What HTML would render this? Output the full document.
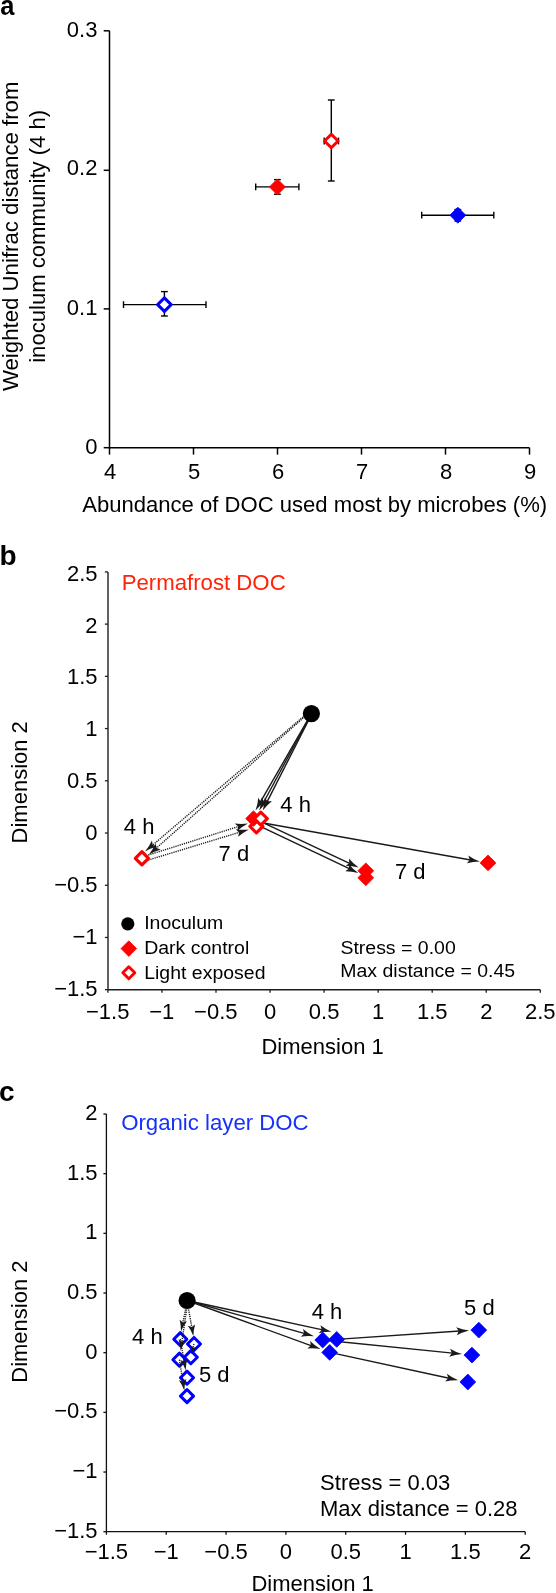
<!DOCTYPE html>
<html><head><meta charset="utf-8"><title>Figure</title>
<style>
html,body{margin:0;padding:0;background:#fff;}
body{width:556px;height:1593px;overflow:hidden;}
svg{display:block;will-change:transform;}
svg text{font-family:"Liberation Sans",sans-serif;}
</style></head>
<body>
<svg width="556" height="1593" viewBox="0 0 556 1593">
<rect x="0" y="0" width="556" height="1593" fill="#fff"/>
<text x="0.00" y="0.00" font-size="28" text-anchor="start" fill="#000" font-weight="700" transform="translate(0.2,15.3) scale(0.91,1)">a</text>
<line x1="109.50" y1="30.80" x2="109.50" y2="447.70" stroke="#000" stroke-width="1.5" />
<line x1="109.50" y1="447.70" x2="529.50" y2="447.70" stroke="#000" stroke-width="1.5" />
<line x1="103.70" y1="447.70" x2="109.50" y2="447.70" stroke="#000" stroke-width="1.5" />
<text x="97.40" y="453.60" font-size="22" text-anchor="end" fill="#000" >0</text>
<line x1="103.70" y1="308.90" x2="109.50" y2="308.90" stroke="#000" stroke-width="1.5" />
<text x="97.40" y="314.70" font-size="22" text-anchor="end" fill="#000" >0.1</text>
<line x1="103.70" y1="170.30" x2="109.50" y2="170.30" stroke="#000" stroke-width="1.5" />
<text x="97.40" y="175.40" font-size="22" text-anchor="end" fill="#000" >0.2</text>
<line x1="103.70" y1="30.80" x2="109.50" y2="30.80" stroke="#000" stroke-width="1.5" />
<text x="97.40" y="36.70" font-size="22" text-anchor="end" fill="#000" >0.3</text>
<line x1="109.50" y1="447.70" x2="109.50" y2="454.60" stroke="#000" stroke-width="1.5" />
<text x="110.20" y="478.60" font-size="22" text-anchor="middle" fill="#000" >4</text>
<line x1="193.50" y1="447.70" x2="193.50" y2="454.60" stroke="#000" stroke-width="1.5" />
<text x="194.20" y="478.60" font-size="22" text-anchor="middle" fill="#000" >5</text>
<line x1="277.50" y1="447.70" x2="277.50" y2="454.60" stroke="#000" stroke-width="1.5" />
<text x="278.20" y="478.60" font-size="22" text-anchor="middle" fill="#000" >6</text>
<line x1="361.50" y1="447.70" x2="361.50" y2="454.60" stroke="#000" stroke-width="1.5" />
<text x="362.20" y="478.60" font-size="22" text-anchor="middle" fill="#000" >7</text>
<line x1="445.50" y1="447.70" x2="445.50" y2="454.60" stroke="#000" stroke-width="1.5" />
<text x="446.20" y="478.60" font-size="22" text-anchor="middle" fill="#000" >8</text>
<line x1="529.50" y1="447.70" x2="529.50" y2="454.60" stroke="#000" stroke-width="1.5" />
<text x="530.20" y="478.60" font-size="22" text-anchor="middle" fill="#000" >9</text>
<text x="314.70" y="511.70" font-size="22" text-anchor="middle" fill="#000" textLength="465" lengthAdjust="spacingAndGlyphs">Abundance of DOC used most by microbes (%)</text>
<g transform="translate(18.4,236.3) rotate(-90)">
<text x="0.00" y="0.00" font-size="22" text-anchor="middle" fill="#000" textLength="309.5" lengthAdjust="spacingAndGlyphs">Weighted Unifrac distance from</text>
<text x="0.00" y="26.30" font-size="22" text-anchor="middle" fill="#000" textLength="253" lengthAdjust="spacingAndGlyphs">inoculum community (4 h)</text>
</g>
<line x1="123.50" y1="304.60" x2="206.00" y2="304.60" stroke="#000" stroke-width="1.4" />
<line x1="123.50" y1="301.20" x2="123.50" y2="308.00" stroke="#000" stroke-width="1.4" />
<line x1="206.00" y1="301.20" x2="206.00" y2="308.00" stroke="#000" stroke-width="1.4" />
<line x1="164.40" y1="291.60" x2="164.40" y2="316.00" stroke="#000" stroke-width="1.4" />
<line x1="161.00" y1="291.60" x2="167.80" y2="291.60" stroke="#000" stroke-width="1.4" />
<line x1="161.00" y1="316.00" x2="167.80" y2="316.00" stroke="#000" stroke-width="1.4" />
<polygon points="164.40,297.85 171.15,304.60 164.40,311.35 157.65,304.60" fill="#fff" stroke="#0000ff" stroke-width="3.0" stroke-linejoin="round"/>
<line x1="255.70" y1="186.90" x2="298.90" y2="186.90" stroke="#000" stroke-width="1.4" />
<line x1="255.70" y1="183.50" x2="255.70" y2="190.30" stroke="#000" stroke-width="1.4" />
<line x1="298.90" y1="183.50" x2="298.90" y2="190.30" stroke="#000" stroke-width="1.4" />
<line x1="277.40" y1="179.60" x2="277.40" y2="194.20" stroke="#000" stroke-width="1.4" />
<line x1="274.00" y1="179.60" x2="280.80" y2="179.60" stroke="#000" stroke-width="1.4" />
<line x1="274.00" y1="194.20" x2="280.80" y2="194.20" stroke="#000" stroke-width="1.4" />
<polygon points="277.40,178.90 285.40,186.90 277.40,194.90 269.40,186.90" fill="#ff0000" stroke="#ff0000" stroke-width="0.8" stroke-linejoin="round"/>
<line x1="324.20" y1="141.00" x2="338.50" y2="141.00" stroke="#000" stroke-width="1.4" />
<line x1="324.20" y1="137.60" x2="324.20" y2="144.40" stroke="#000" stroke-width="1.4" />
<line x1="338.50" y1="137.60" x2="338.50" y2="144.40" stroke="#000" stroke-width="1.4" />
<line x1="331.30" y1="100.00" x2="331.30" y2="181.00" stroke="#000" stroke-width="1.4" />
<line x1="327.90" y1="100.00" x2="334.70" y2="100.00" stroke="#000" stroke-width="1.4" />
<line x1="327.90" y1="181.00" x2="334.70" y2="181.00" stroke="#000" stroke-width="1.4" />
<polygon points="331.30,134.25 338.05,141.00 331.30,147.75 324.55,141.00" fill="#fff" stroke="#ff0000" stroke-width="3.0" stroke-linejoin="round"/>
<line x1="421.70" y1="215.20" x2="493.80" y2="215.20" stroke="#000" stroke-width="1.4" />
<line x1="421.70" y1="211.80" x2="421.70" y2="218.60" stroke="#000" stroke-width="1.4" />
<line x1="493.80" y1="211.80" x2="493.80" y2="218.60" stroke="#000" stroke-width="1.4" />
<line x1="457.80" y1="209.50" x2="457.80" y2="221.00" stroke="#000" stroke-width="1.4" />
<line x1="454.40" y1="209.50" x2="461.20" y2="209.50" stroke="#000" stroke-width="1.4" />
<line x1="454.40" y1="221.00" x2="461.20" y2="221.00" stroke="#000" stroke-width="1.4" />
<polygon points="457.80,207.20 465.80,215.20 457.80,223.20 449.80,215.20" fill="#0000ff" stroke="#0000ff" stroke-width="0.8" stroke-linejoin="round"/>
<text x="-0.50" y="564.80" font-size="28" text-anchor="start" fill="#000" font-weight="700" >b</text>
<line x1="108.00" y1="571.90" x2="108.00" y2="989.70" stroke="#1e1e1e" stroke-width="1.4" />
<line x1="107.90" y1="989.70" x2="540.30" y2="989.70" stroke="#1e1e1e" stroke-width="1.5" />
<line x1="104.90" y1="571.90" x2="107.90" y2="571.90" stroke="#1e1e1e" stroke-width="1.3" />
<text x="97.60" y="580.70" font-size="22" text-anchor="end" fill="#000" >2.5</text>
<line x1="104.90" y1="624.12" x2="107.90" y2="624.12" stroke="#1e1e1e" stroke-width="1.3" />
<text x="97.60" y="632.55" font-size="22" text-anchor="end" fill="#000" >2</text>
<line x1="104.90" y1="676.35" x2="107.90" y2="676.35" stroke="#1e1e1e" stroke-width="1.3" />
<text x="97.60" y="684.40" font-size="22" text-anchor="end" fill="#000" >1.5</text>
<line x1="104.90" y1="728.58" x2="107.90" y2="728.58" stroke="#1e1e1e" stroke-width="1.3" />
<text x="97.60" y="736.25" font-size="22" text-anchor="end" fill="#000" >1</text>
<line x1="104.90" y1="780.80" x2="107.90" y2="780.80" stroke="#1e1e1e" stroke-width="1.3" />
<text x="97.60" y="788.10" font-size="22" text-anchor="end" fill="#000" >0.5</text>
<line x1="104.90" y1="833.03" x2="107.90" y2="833.03" stroke="#1e1e1e" stroke-width="1.3" />
<text x="97.60" y="839.95" font-size="22" text-anchor="end" fill="#000" >0</text>
<line x1="104.90" y1="885.25" x2="107.90" y2="885.25" stroke="#1e1e1e" stroke-width="1.3" />
<text x="97.60" y="891.80" font-size="22" text-anchor="end" fill="#000" >−0.5</text>
<line x1="104.90" y1="937.48" x2="107.90" y2="937.48" stroke="#1e1e1e" stroke-width="1.3" />
<text x="97.60" y="943.65" font-size="22" text-anchor="end" fill="#000" >−1</text>
<line x1="104.90" y1="989.70" x2="107.90" y2="989.70" stroke="#1e1e1e" stroke-width="1.3" />
<text x="97.60" y="995.50" font-size="22" text-anchor="end" fill="#000" >−1.5</text>
<line x1="107.90" y1="989.70" x2="107.90" y2="992.70" stroke="#1e1e1e" stroke-width="1.3" />
<text x="107.70" y="1019.20" font-size="22" text-anchor="middle" fill="#000" >−1.5</text>
<line x1="161.95" y1="989.70" x2="161.95" y2="992.70" stroke="#1e1e1e" stroke-width="1.3" />
<text x="161.75" y="1019.20" font-size="22" text-anchor="middle" fill="#000" >−1</text>
<line x1="216.00" y1="989.70" x2="216.00" y2="992.70" stroke="#1e1e1e" stroke-width="1.3" />
<text x="215.80" y="1019.20" font-size="22" text-anchor="middle" fill="#000" >−0.5</text>
<line x1="270.05" y1="989.70" x2="270.05" y2="992.70" stroke="#1e1e1e" stroke-width="1.3" />
<text x="270.05" y="1019.20" font-size="22" text-anchor="middle" fill="#000" >0</text>
<line x1="324.10" y1="989.70" x2="324.10" y2="992.70" stroke="#1e1e1e" stroke-width="1.3" />
<text x="324.10" y="1019.20" font-size="22" text-anchor="middle" fill="#000" >0.5</text>
<line x1="378.15" y1="989.70" x2="378.15" y2="992.70" stroke="#1e1e1e" stroke-width="1.3" />
<text x="378.15" y="1019.20" font-size="22" text-anchor="middle" fill="#000" >1</text>
<line x1="432.20" y1="989.70" x2="432.20" y2="992.70" stroke="#1e1e1e" stroke-width="1.3" />
<text x="432.20" y="1019.20" font-size="22" text-anchor="middle" fill="#000" >1.5</text>
<line x1="486.25" y1="989.70" x2="486.25" y2="992.70" stroke="#1e1e1e" stroke-width="1.3" />
<text x="486.25" y="1019.20" font-size="22" text-anchor="middle" fill="#000" >2</text>
<line x1="540.30" y1="989.70" x2="540.30" y2="992.70" stroke="#1e1e1e" stroke-width="1.3" />
<text x="540.30" y="1019.20" font-size="22" text-anchor="middle" fill="#000" >2.5</text>
<text x="322.60" y="1053.70" font-size="22" text-anchor="middle" fill="#000" >Dimension 1</text>
<g transform="translate(27.3,782.3) rotate(-90)">
<text x="0.00" y="0.00" font-size="22" text-anchor="middle" fill="#000" >Dimension 2</text>
</g>
<text x="121.70" y="590.30" font-size="22.2" text-anchor="start" fill="#ff2308" >Permafrost DOC</text>
<line x1="311.40" y1="709.80" x2="152.14" y2="845.52" stroke="#1a1a1a" stroke-width="1.4" stroke-dasharray="1.2 1.0"/>
<path d="M145.00,851.60 Q149.40,846.17 151.92,840.45 L152.80,844.95 L157.11,846.54 Q151.06,848.12 145.00,851.60Z" fill="#1a1a1a"/>
<line x1="311.40" y1="710.70" x2="155.82" y2="848.58" stroke="#1a1a1a" stroke-width="1.4" stroke-dasharray="1.2 1.0"/>
<path d="M148.80,854.80 Q153.10,849.28 155.50,843.52 L156.47,848.00 L160.81,849.50 Q154.79,851.20 148.80,854.80Z" fill="#1a1a1a"/>
<line x1="141.90" y1="857.10" x2="238.96" y2="826.33" stroke="#1a1a1a" stroke-width="1.4" stroke-dasharray="1.2 1.0"/>
<path d="M247.90,823.50 Q241.73,826.80 237.19,831.09 L238.13,826.60 L234.78,823.46 Q240.96,824.36 247.90,823.50Z" fill="#1a1a1a"/>
<line x1="141.90" y1="862.00" x2="239.93" y2="832.13" stroke="#1a1a1a" stroke-width="1.4" stroke-dasharray="1.2 1.0"/>
<path d="M248.90,829.40 Q242.70,832.63 238.11,836.87 L239.09,832.39 L235.78,829.22 Q241.95,830.18 248.90,829.40Z" fill="#1a1a1a"/>
<line x1="311.40" y1="713.60" x2="260.18" y2="802.38" stroke="#1a1a1a" stroke-width="1.4" />
<path d="M255.50,810.50 Q257.83,803.91 258.28,797.67 L260.62,801.62 L265.21,801.67 Q260.04,805.18 255.50,810.50Z" fill="#1a1a1a"/>
<line x1="311.40" y1="713.60" x2="263.65" y2="802.25" stroke="#1a1a1a" stroke-width="1.4" />
<path d="M259.20,810.50 Q261.33,803.84 261.61,797.60 L264.06,801.48 L268.65,801.39 Q263.59,805.05 259.20,810.50Z" fill="#1a1a1a"/>
<line x1="311.90" y1="713.60" x2="266.94" y2="802.14" stroke="#1a1a1a" stroke-width="1.4" />
<path d="M262.70,810.50 Q264.67,803.79 264.79,797.54 L267.34,801.36 L271.93,801.17 Q266.95,804.95 262.70,810.50Z" fill="#1a1a1a"/>
<line x1="255.00" y1="821.50" x2="470.67" y2="859.95" stroke="#1a1a1a" stroke-width="1.4" />
<path d="M479.90,861.60 Q472.91,861.65 466.89,863.34 L469.81,859.80 L468.30,855.47 Q473.36,859.13 479.90,861.60Z" fill="#1a1a1a"/>
<line x1="255.00" y1="818.90" x2="350.11" y2="863.52" stroke="#1a1a1a" stroke-width="1.4" />
<path d="M358.60,867.50 Q351.83,865.74 345.58,865.81 L349.32,863.15 L348.98,858.57 Q352.92,863.42 358.60,867.50Z" fill="#1a1a1a"/>
<line x1="255.00" y1="823.90" x2="349.83" y2="868.88" stroke="#1a1a1a" stroke-width="1.4" />
<path d="M358.30,872.90 Q351.54,871.11 345.29,871.16 L349.04,868.51 L348.72,863.93 Q352.64,868.80 358.30,872.90Z" fill="#1a1a1a"/>
<circle cx="311.4" cy="713.6" r="8.6" fill="#000"/>
<polygon points="141.90,851.70 148.50,858.30 141.90,864.90 135.30,858.30" fill="#fff" stroke="#ff0000" stroke-width="3.2" stroke-linejoin="round"/>
<polygon points="256.40,819.90 262.90,826.40 256.40,832.90 249.90,826.40" fill="#fff" stroke="#ff0000" stroke-width="3.1" stroke-linejoin="round"/>
<polygon points="253.50,810.80 261.30,818.60 253.50,826.40 245.70,818.60" fill="#ff0000" stroke="#ff0000" stroke-width="0.8" stroke-linejoin="round"/>
<polygon points="260.80,812.10 267.30,818.60 260.80,825.10 254.30,818.60" fill="#fff" stroke="#ff0000" stroke-width="3.1" stroke-linejoin="round"/>
<polygon points="365.80,862.90 373.70,870.80 365.80,878.70 357.90,870.80" fill="#ff0000" stroke="#ff0000" stroke-width="0.8" stroke-linejoin="round"/>
<polygon points="365.80,869.90 373.70,877.80 365.80,885.70 357.90,877.80" fill="#ff0000" stroke="#ff0000" stroke-width="0.8" stroke-linejoin="round"/>
<polygon points="488.00,855.00 495.90,862.90 488.00,870.80 480.10,862.90" fill="#ff0000" stroke="#ff0000" stroke-width="0.8" stroke-linejoin="round"/>
<text x="123.80" y="834.40" font-size="22" text-anchor="start" fill="#000" >4 h</text>
<text x="280.30" y="811.80" font-size="22" text-anchor="start" fill="#000" >4 h</text>
<text x="218.60" y="861.00" font-size="22" text-anchor="start" fill="#000" >7 d</text>
<text x="395.00" y="879.40" font-size="22" text-anchor="start" fill="#000" >7 d</text>
<circle cx="127.8" cy="923.8" r="6.6" fill="#000"/>
<polygon points="128.80,940.80 136.60,948.60 128.80,956.40 121.00,948.60" fill="#ff0000" stroke="#ff0000" stroke-width="0.8" stroke-linejoin="round"/>
<polygon points="128.80,966.80 134.80,972.80 128.80,978.80 122.80,972.80" fill="#fff" stroke="#ff0000" stroke-width="2.9" stroke-linejoin="round"/>
<text x="0.00" y="0.00" font-size="19.5" text-anchor="start" fill="#000" transform="translate(144.2,929.3) scale(1,0.93)">Inoculum</text>
<text x="0.00" y="0.00" font-size="19.5" text-anchor="start" fill="#000" transform="translate(144.2,954.2) scale(1,0.93)">Dark control</text>
<text x="0.00" y="0.00" font-size="19.5" text-anchor="start" fill="#000" transform="translate(144.2,978.5) scale(1,0.93)">Light exposed</text>
<text x="0.00" y="0.00" font-size="19.5" text-anchor="start" fill="#000" transform="translate(340.4,954.0) scale(1,0.93)">Stress = 0.00</text>
<text x="0.00" y="0.00" font-size="19.5" text-anchor="start" fill="#000" transform="translate(340.3,976.9) scale(1,0.93)">Max distance = 0.45</text>
<text x="-1.00" y="1101.40" font-size="28" text-anchor="start" fill="#000" font-weight="700" >c</text>
<line x1="106.40" y1="1114.00" x2="106.40" y2="1531.70" stroke="#111" stroke-width="1.3" />
<line x1="106.40" y1="1531.70" x2="525.20" y2="1531.70" stroke="#111" stroke-width="1.3" />
<line x1="103.40" y1="1114.00" x2="106.40" y2="1114.00" stroke="#111" stroke-width="1.3" />
<text x="97.60" y="1120.00" font-size="22" text-anchor="end" fill="#000" >2</text>
<line x1="103.40" y1="1173.67" x2="106.40" y2="1173.67" stroke="#111" stroke-width="1.3" />
<text x="97.60" y="1179.67" font-size="22" text-anchor="end" fill="#000" >1.5</text>
<line x1="103.40" y1="1233.34" x2="106.40" y2="1233.34" stroke="#111" stroke-width="1.3" />
<text x="97.60" y="1239.34" font-size="22" text-anchor="end" fill="#000" >1</text>
<line x1="103.40" y1="1293.01" x2="106.40" y2="1293.01" stroke="#111" stroke-width="1.3" />
<text x="97.60" y="1299.01" font-size="22" text-anchor="end" fill="#000" >0.5</text>
<line x1="103.40" y1="1352.69" x2="106.40" y2="1352.69" stroke="#111" stroke-width="1.3" />
<text x="97.60" y="1358.69" font-size="22" text-anchor="end" fill="#000" >0</text>
<line x1="103.40" y1="1412.36" x2="106.40" y2="1412.36" stroke="#111" stroke-width="1.3" />
<text x="97.60" y="1418.36" font-size="22" text-anchor="end" fill="#000" >−0.5</text>
<line x1="103.40" y1="1472.03" x2="106.40" y2="1472.03" stroke="#111" stroke-width="1.3" />
<text x="97.60" y="1478.03" font-size="22" text-anchor="end" fill="#000" >−1</text>
<line x1="103.40" y1="1531.70" x2="106.40" y2="1531.70" stroke="#111" stroke-width="1.3" />
<text x="97.60" y="1537.70" font-size="22" text-anchor="end" fill="#000" >−1.5</text>
<line x1="106.40" y1="1531.70" x2="106.40" y2="1534.70" stroke="#111" stroke-width="1.3" />
<text x="106.40" y="1558.50" font-size="22" text-anchor="middle" fill="#000" >−1.5</text>
<line x1="166.23" y1="1531.70" x2="166.23" y2="1534.70" stroke="#111" stroke-width="1.3" />
<text x="166.23" y="1558.50" font-size="22" text-anchor="middle" fill="#000" >−1</text>
<line x1="226.06" y1="1531.70" x2="226.06" y2="1534.70" stroke="#111" stroke-width="1.3" />
<text x="226.06" y="1558.50" font-size="22" text-anchor="middle" fill="#000" >−0.5</text>
<line x1="285.89" y1="1531.70" x2="285.89" y2="1534.70" stroke="#111" stroke-width="1.3" />
<text x="285.89" y="1558.50" font-size="22" text-anchor="middle" fill="#000" >0</text>
<line x1="345.71" y1="1531.70" x2="345.71" y2="1534.70" stroke="#111" stroke-width="1.3" />
<text x="345.71" y="1558.50" font-size="22" text-anchor="middle" fill="#000" >0.5</text>
<line x1="405.54" y1="1531.70" x2="405.54" y2="1534.70" stroke="#111" stroke-width="1.3" />
<text x="405.54" y="1558.50" font-size="22" text-anchor="middle" fill="#000" >1</text>
<line x1="465.37" y1="1531.70" x2="465.37" y2="1534.70" stroke="#111" stroke-width="1.3" />
<text x="465.37" y="1558.50" font-size="22" text-anchor="middle" fill="#000" >1.5</text>
<line x1="525.20" y1="1531.70" x2="525.20" y2="1534.70" stroke="#111" stroke-width="1.3" />
<text x="525.20" y="1558.50" font-size="22" text-anchor="middle" fill="#000" >2</text>
<text x="312.60" y="1591.20" font-size="22" text-anchor="middle" fill="#000" >Dimension 1</text>
<g transform="translate(27.3,1321.6) rotate(-90)">
<text x="0.00" y="0.00" font-size="22" text-anchor="middle" fill="#000" >Dimension 2</text>
</g>
<text x="121.20" y="1130.40" font-size="22.2" text-anchor="start" fill="#1632fa" >Organic layer DOC</text>
<line x1="187.10" y1="1300.50" x2="304.98" y2="1333.66" stroke="#1a1a1a" stroke-width="1.4" />
<path d="M314.00,1336.20 Q307.04,1335.57 300.88,1336.67 L304.13,1333.42 L303.05,1328.96 Q307.73,1333.11 314.00,1336.20Z" fill="#1a1a1a"/>
<line x1="187.10" y1="1300.50" x2="322.64" y2="1329.91" stroke="#1a1a1a" stroke-width="1.4" />
<path d="M331.80,1331.90 Q324.81,1331.69 318.74,1333.16 L321.78,1329.73 L320.43,1325.34 Q325.35,1329.19 331.80,1331.90Z" fill="#1a1a1a"/>
<line x1="187.10" y1="1300.50" x2="311.69" y2="1345.89" stroke="#1a1a1a" stroke-width="1.4" />
<path d="M320.50,1349.10 Q313.60,1347.95 307.39,1348.58 L310.87,1345.59 L310.12,1341.06 Q314.48,1345.54 320.50,1349.10Z" fill="#1a1a1a"/>
<line x1="336.70" y1="1339.40" x2="459.65" y2="1331.04" stroke="#1a1a1a" stroke-width="1.4" />
<path d="M469.00,1330.40 Q462.23,1332.14 456.80,1335.24 L458.77,1331.10 L456.26,1327.26 Q462.05,1329.59 469.00,1330.40Z" fill="#1a1a1a"/>
<line x1="322.70" y1="1340.00" x2="452.77" y2="1353.16" stroke="#1a1a1a" stroke-width="1.4" />
<path d="M462.10,1354.10 Q455.13,1354.68 449.26,1356.82 L451.90,1353.07 L450.07,1348.86 Q455.39,1352.13 462.10,1354.10Z" fill="#1a1a1a"/>
<line x1="329.70" y1="1352.40" x2="449.14" y2="1378.22" stroke="#1a1a1a" stroke-width="1.4" />
<path d="M458.30,1380.20 Q451.31,1380.00 445.24,1381.47 L448.28,1378.03 L446.93,1373.65 Q451.85,1377.50 458.30,1380.20Z" fill="#1a1a1a"/>
<polygon points="180.30,1332.65 186.85,1339.20 180.30,1345.75 173.75,1339.20" fill="none" stroke="#0000ff" stroke-width="3.0" stroke-linejoin="round"/>
<polygon points="194.00,1337.45 200.55,1344.00 194.00,1350.55 187.45,1344.00" fill="none" stroke="#0000ff" stroke-width="3.0" stroke-linejoin="round"/>
<polygon points="179.40,1353.15 185.95,1359.70 179.40,1366.25 172.85,1359.70" fill="none" stroke="#0000ff" stroke-width="3.0" stroke-linejoin="round"/>
<polygon points="190.80,1350.65 197.35,1357.20 190.80,1363.75 184.25,1357.20" fill="none" stroke="#0000ff" stroke-width="3.0" stroke-linejoin="round"/>
<polygon points="187.00,1371.15 193.55,1377.70 187.00,1384.25 180.45,1377.70" fill="none" stroke="#0000ff" stroke-width="3.0" stroke-linejoin="round"/>
<polygon points="187.00,1389.55 193.55,1396.10 187.00,1402.65 180.45,1396.10" fill="none" stroke="#0000ff" stroke-width="3.0" stroke-linejoin="round"/>
<line x1="185.60" y1="1309.50" x2="182.70" y2="1323.23" stroke="#1a1a1a" stroke-width="1.4" stroke-dasharray="1.2 1.0"/>
<path d="M181.00,1331.30 Q181.07,1325.13 179.60,1319.76 L182.86,1322.47 L186.94,1321.31 Q183.42,1325.63 181.00,1331.30Z" fill="#1a1a1a"/>
<line x1="188.60" y1="1309.50" x2="191.93" y2="1327.88" stroke="#1a1a1a" stroke-width="1.4" stroke-dasharray="1.2 1.0"/>
<path d="M193.40,1336.00 Q191.14,1330.26 187.75,1325.84 L191.79,1327.12 L195.13,1324.51 Q193.50,1329.83 193.40,1336.00Z" fill="#1a1a1a"/>
<line x1="186.60" y1="1309.50" x2="181.79" y2="1342.54" stroke="#1a1a1a" stroke-width="1.4" stroke-dasharray="1.2 1.0"/>
<path d="M180.60,1350.70 Q180.28,1344.54 178.47,1339.27 L181.90,1341.77 L185.90,1340.36 Q182.66,1344.89 180.60,1350.70Z" fill="#1a1a1a"/>
<line x1="180.30" y1="1339.20" x2="184.29" y2="1362.17" stroke="#1a1a1a" stroke-width="1.4" stroke-dasharray="1.2 1.0"/>
<path d="M185.70,1370.30 Q183.48,1364.54 180.12,1360.10 L184.16,1361.41 L187.51,1358.82 Q185.85,1364.13 185.70,1370.30Z" fill="#1a1a1a"/>
<line x1="194.00" y1="1344.00" x2="192.72" y2="1348.25" stroke="#1a1a1a" stroke-width="1.4" stroke-dasharray="1.2 1.0"/>
<path d="M191.00,1354.00 Q191.42,1349.53 190.66,1345.55 L192.89,1347.72 L195.93,1347.13 Q193.11,1350.04 191.00,1354.00Z" fill="#1a1a1a"/>
<line x1="179.40" y1="1359.70" x2="183.00" y2="1382.35" stroke="#1a1a1a" stroke-width="1.4" stroke-dasharray="1.2 1.0"/>
<path d="M184.30,1390.50 Q182.16,1384.71 178.87,1380.23 L182.88,1381.59 L186.28,1379.05 Q184.53,1384.34 184.30,1390.50Z" fill="#1a1a1a"/>
<circle cx="187.1" cy="1300.5" r="8.6" fill="#000"/>
<polygon points="322.70,1332.10 330.60,1340.00 322.70,1347.90 314.80,1340.00" fill="#0000ff" stroke="#0000ff" stroke-width="0.8" stroke-linejoin="round"/>
<polygon points="336.70,1331.50 344.60,1339.40 336.70,1347.30 328.80,1339.40" fill="#0000ff" stroke="#0000ff" stroke-width="0.8" stroke-linejoin="round"/>
<polygon points="329.70,1344.50 337.60,1352.40 329.70,1360.30 321.80,1352.40" fill="#0000ff" stroke="#0000ff" stroke-width="0.8" stroke-linejoin="round"/>
<polygon points="478.80,1322.20 486.70,1330.10 478.80,1338.00 470.90,1330.10" fill="#0000ff" stroke="#0000ff" stroke-width="0.8" stroke-linejoin="round"/>
<polygon points="471.90,1347.20 479.80,1355.10 471.90,1363.00 464.00,1355.10" fill="#0000ff" stroke="#0000ff" stroke-width="0.8" stroke-linejoin="round"/>
<polygon points="467.80,1374.10 475.70,1382.00 467.80,1389.90 459.90,1382.00" fill="#0000ff" stroke="#0000ff" stroke-width="0.8" stroke-linejoin="round"/>
<text x="132.10" y="1343.70" font-size="22" text-anchor="start" fill="#000" >4 h</text>
<text x="199.00" y="1381.90" font-size="22" text-anchor="start" fill="#000" >5 d</text>
<text x="311.70" y="1319.00" font-size="22" text-anchor="start" fill="#000" >4 h</text>
<text x="464.10" y="1315.00" font-size="22" text-anchor="start" fill="#000" >5 d</text>
<text x="320.10" y="1489.70" font-size="22" text-anchor="start" fill="#000" >Stress = 0.03</text>
<text x="320.00" y="1516.20" font-size="22" text-anchor="start" fill="#000" >Max distance = 0.28</text>
</svg>
</body></html>
